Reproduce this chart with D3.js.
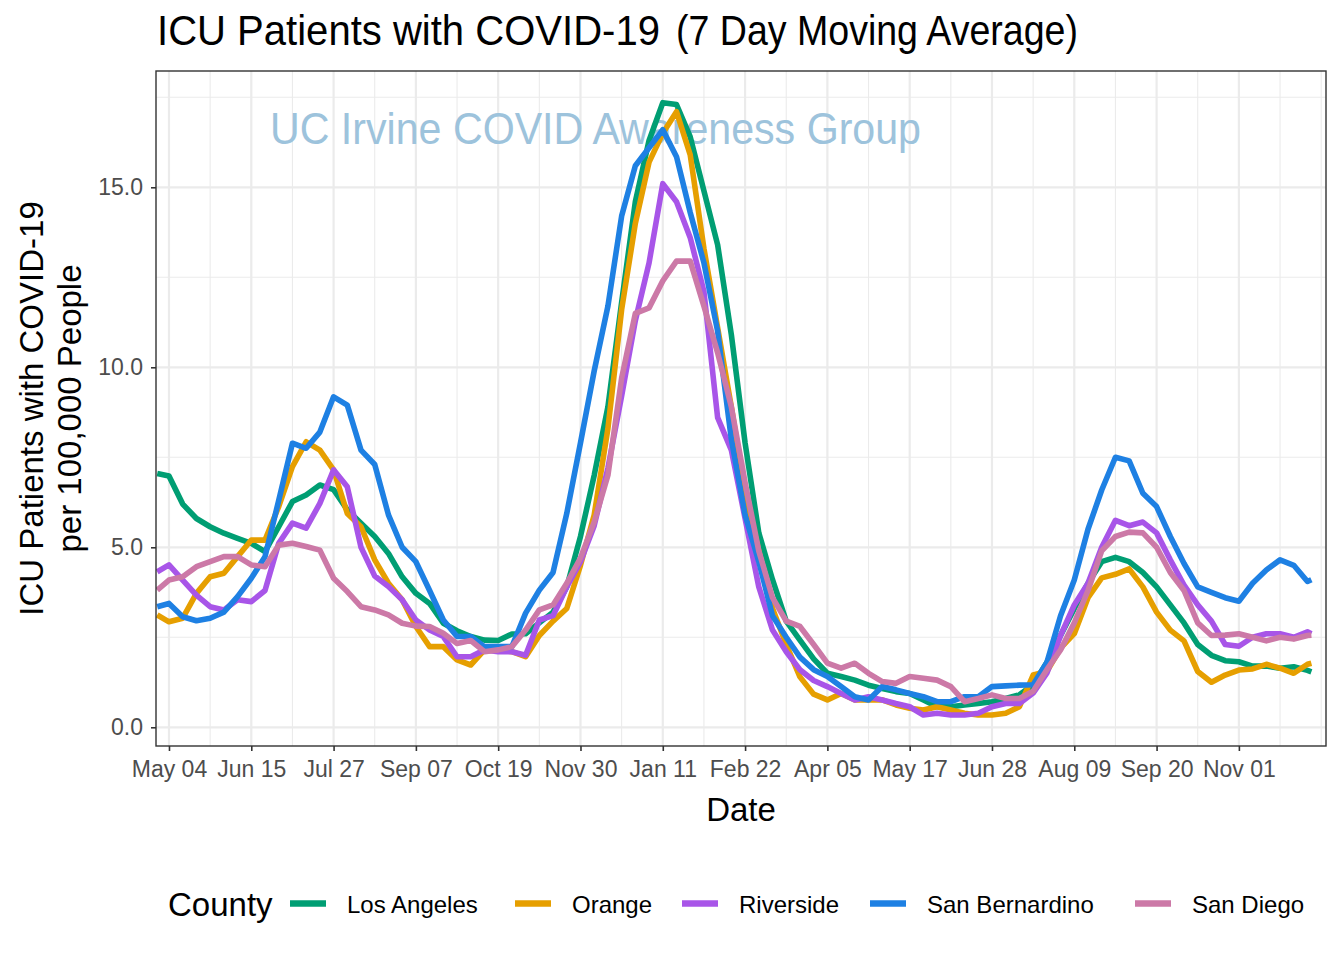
<!DOCTYPE html>
<html><head><meta charset="utf-8">
<script src="https://cdn.jsdelivr.net/npm/d3@7"></script>
<style>body{margin:0;background:#fff} text{font-family:"Liberation Sans",Arial,Helvetica,sans-serif}</style>
</head><body><svg id="chart" width="1344" height="960"></svg>
<script>
// ---------- DATA ----------
const dates = [
"2020-04-28","2020-05-04","2020-05-11","2020-05-18","2020-05-25","2020-06-01","2020-06-08","2020-06-15","2020-06-22","2020-06-29",
"2020-07-06","2020-07-13","2020-07-20","2020-07-27","2020-08-03","2020-08-10","2020-08-17","2020-08-24","2020-08-31","2020-09-07",
"2020-09-14","2020-09-21","2020-09-28","2020-10-05","2020-10-12","2020-10-19","2020-10-26","2020-11-02","2020-11-09","2020-11-16",
"2020-11-23","2020-11-30","2020-12-07","2020-12-14","2020-12-21","2020-12-28","2021-01-04","2021-01-11","2021-01-18","2021-01-25",
"2021-02-01","2021-02-08","2021-02-15","2021-02-22","2021-03-01","2021-03-08","2021-03-15","2021-03-22","2021-03-29","2021-04-05",
"2021-04-12","2021-04-19","2021-04-26","2021-05-03","2021-05-10","2021-05-17","2021-05-24","2021-05-31","2021-06-07","2021-06-14",
"2021-06-21","2021-06-28","2021-07-05","2021-07-12","2021-07-19","2021-07-26","2021-08-02","2021-08-09","2021-08-16","2021-08-23",
"2021-08-30","2021-09-06","2021-09-13","2021-09-20","2021-09-27","2021-10-04","2021-10-11","2021-10-18","2021-10-25","2021-11-01",
"2021-11-08","2021-11-15","2021-11-22","2021-11-29","2021-12-06","2021-12-08"];

const losAngeles = [
7.05,6.98,6.2,5.8,5.57,5.39,5.25,5.11,4.88,5.57,
6.27,6.45,6.73,6.6,6.04,5.67,5.3,4.83,4.18,3.72,
3.44,2.89,2.68,2.52,2.42,2.41,2.59,2.6,2.9,3.2,
3.9,5.3,7.0,8.9,11.8,14.6,16.3,17.35,17.3,16.4,
14.9,13.4,10.9,7.9,5.4,4.1,2.95,2.42,1.9,1.5,
1.41,1.31,1.17,1.08,0.99,0.94,0.76,0.57,0.57,0.62,
0.66,0.71,0.8,0.9,1.18,1.8,2.55,3.3,4.0,4.6,
4.72,4.6,4.3,3.9,3.4,2.9,2.3,2.0,1.85,1.82,
1.7,1.7,1.64,1.68,1.58,1.54];

const orange = [
3.12,2.93,3.03,3.72,4.18,4.28,4.74,5.2,5.2,6.13,
7.24,7.93,7.7,7.15,5.94,5.57,4.65,4.0,3.54,2.8,
2.24,2.24,1.87,1.73,2.15,2.15,2.1,1.96,2.55,2.95,
3.3,4.5,5.9,8.3,11.6,14.0,15.7,16.5,17.1,15.9,
13.3,11.1,8.9,6.5,4.9,3.3,2.3,1.4,0.92,0.76,
0.94,0.76,0.76,0.76,0.62,0.53,0.48,0.57,0.48,0.39,
0.34,0.34,0.39,0.57,1.45,1.55,2.2,2.6,3.6,4.15,
4.25,4.4,3.9,3.2,2.7,2.4,1.55,1.25,1.45,1.59,
1.62,1.75,1.64,1.5,1.75,1.78];

const riverside = [
4.32,4.51,4.09,3.67,3.35,3.26,3.54,3.49,3.8,5.11,
5.67,5.53,6.22,7.15,6.68,5.0,4.2,3.91,3.54,2.98,
2.7,2.52,1.96,1.96,2.15,2.1,2.1,2.0,2.98,3.1,
3.9,4.6,5.6,7.2,9.2,11.3,12.9,15.1,14.6,13.6,
12.1,8.6,7.7,5.8,3.9,2.7,2.1,1.6,1.3,1.13,
0.94,0.76,0.85,0.76,0.66,0.57,0.34,0.39,0.34,0.34,
0.39,0.57,0.66,0.66,0.95,1.5,2.55,3.4,4.0,5.0,
5.75,5.6,5.7,5.4,4.65,3.95,3.4,2.95,2.3,2.25,
2.5,2.6,2.6,2.5,2.65,2.6];

const sanBernardino = [
3.35,3.44,3.07,2.96,3.03,3.2,3.63,4.14,4.74,6.3,
7.89,7.75,8.2,9.18,8.95,7.7,7.3,5.9,5.0,4.6,
3.8,2.98,2.52,2.52,2.24,2.24,2.24,3.17,3.81,4.3,
5.94,7.9,9.9,11.7,14.2,15.6,16.1,16.6,15.85,14.3,
12.9,11.0,8.0,5.9,4.6,3.1,2.5,1.95,1.6,1.41,
1.13,0.85,0.76,1.13,1.04,0.94,0.85,0.71,0.71,0.85,
0.85,1.13,1.15,1.17,1.18,1.8,3.1,4.09,5.5,6.59,
7.5,7.4,6.5,6.13,5.3,4.55,3.9,3.75,3.6,3.5,
4.0,4.37,4.65,4.5,4.05,4.1];

const sanDiego = [
3.81,4.09,4.18,4.46,4.6,4.74,4.74,4.51,4.46,5.06,
5.11,5.02,4.92,4.14,3.77,3.35,3.26,3.12,2.89,2.81,
2.8,2.61,2.33,2.41,2.1,2.15,2.24,2.7,3.26,3.4,
4.0,4.7,5.7,7.0,9.7,11.5,11.65,12.4,12.95,12.95,
11.7,10.4,8.9,6.8,4.9,3.6,2.95,2.8,2.3,1.78,
1.64,1.78,1.5,1.27,1.22,1.41,1.36,1.31,1.13,0.71,
0.8,0.9,0.8,0.8,1.0,1.6,2.15,2.9,3.8,4.9,
5.3,5.42,5.4,5.0,4.3,3.8,2.9,2.55,2.56,2.6,
2.5,2.4,2.5,2.45,2.55,2.56];

const counties = ["Los Angeles","Orange","Riverside","San Bernardino","San Diego"];
const seriesValues = [losAngeles, orange, riverside, sanBernardino, sanDiego];
const colors = ["#009E73","#E69F00","#A855E8","#1E80E3","#CC79A7"];

const xTickDates = ["2020-05-04","2020-06-15","2020-07-27","2020-09-07","2020-10-19","2020-11-30","2021-01-11",
                    "2021-02-22","2021-04-05","2021-05-17","2021-06-28","2021-08-09","2021-09-20","2021-11-01"];
const xTickLabels = ["May 04","Jun 15","Jul 27","Sep 07","Oct 19","Nov 30","Jan 11",
                     "Feb 22","Apr 05","May 17","Jun 28","Aug 09","Sep 20","Nov 01"];
const yTicks = [0, 5, 10, 15];
const yMinor = [2.5, 7.5, 12.5, 17.5];

// ---------- LAYOUT ----------
const svg = d3.select("#chart");
const P = {left:156, right:1326, top:71, bottom:746};
const parse = d3.utcParse("%Y-%m-%d");

const x = d3.scaleUtc()
  .domain([new Date(Date.UTC(2020,3,27,9)), new Date(Date.UTC(2021,11,15,11))])
  .range([P.left, P.right]);
const y = d3.scaleLinear().domain([-0.52, 18.23]).range([P.bottom, P.top]);

svg.append("rect").attr("width",1344).attr("height",960).attr("fill","#fff");

const majorX = xTickDates.map(parse);
const minorX = [];
majorX.forEach(d => minorX.push(d3.utcDay.offset(d, 21)));
minorX.push(d3.utcDay.offset(majorX[majorX.length-1], 42));

const grid = svg.append("g");
grid.selectAll(".ymin").data(yMinor).join("line")
  .attr("x1",P.left).attr("x2",P.right).attr("y1",d=>y(d)).attr("y2",d=>y(d))
  .attr("stroke","#EBEBEB").attr("stroke-width",1.1);
grid.selectAll(".xmin").data(minorX.filter(d=>x(d)>P.left && x(d)<P.right)).join("line")
  .attr("y1",P.top).attr("y2",P.bottom).attr("x1",d=>x(d)).attr("x2",d=>x(d))
  .attr("stroke","#EBEBEB").attr("stroke-width",1.1);
grid.selectAll(".ymaj").data(yTicks).join("line")
  .attr("x1",P.left).attr("x2",P.right).attr("y1",d=>y(d)).attr("y2",d=>y(d))
  .attr("stroke","#EBEBEB").attr("stroke-width",2.2);
grid.selectAll(".xmaj").data(majorX).join("line")
  .attr("y1",P.top).attr("y2",P.bottom).attr("x1",d=>x(d)).attr("x2",d=>x(d))
  .attr("stroke","#EBEBEB").attr("stroke-width",2.2);

// watermark
svg.append("text").attr("x",270).attr("y",144)
  .attr("font-size",44).attr("fill","#9DC3DC")
  .attr("textLength",651).attr("lengthAdjust","spacingAndGlyphs")
  .text("UC Irvine COVID Awareness Group");

// clip
svg.append("clipPath").attr("id","clip").append("rect")
  .attr("x",P.left).attr("y",P.top).attr("width",P.right-P.left).attr("height",P.bottom-P.top);

const line = d3.line().x(d=>x(d[0])).y(d=>y(d[1]));
const parsedDates = dates.map(parse);
const lines = svg.append("g").attr("clip-path","url(#clip)");
seriesValues.forEach((vals,i)=>{
  lines.append("path")
    .datum(parsedDates.map((d,j)=>[d, vals[j]]))
    .attr("d", line).attr("fill","none")
    .attr("stroke", colors[i]).attr("stroke-width",5.6)
    .attr("stroke-linejoin","round");
});

// panel border
svg.append("rect").attr("x",P.left).attr("y",P.top)
  .attr("width",P.right-P.left).attr("height",P.bottom-P.top)
  .attr("fill","none").attr("stroke","#333333").attr("stroke-width",1.4);

// x axis
const xAxis = d3.axisBottom(x).tickValues(majorX)
  .tickFormat((d,i)=>xTickLabels[i]).tickSize(5).tickPadding(10);
const gx = svg.append("g").attr("transform",`translate(0,${P.bottom})`).call(xAxis);
gx.select(".domain").remove();
gx.selectAll(".tick line").attr("stroke","#333333").attr("stroke-width",1.6);
gx.selectAll(".tick text").attr("font-size",23).attr("fill","#4D4D4D")
  .attr("font-family","'Liberation Sans',Arial,sans-serif");

// y axis
const yAxis = d3.axisLeft(y).tickValues(yTicks).tickFormat(d3.format(".1f")).tickSize(5).tickPadding(8);
const gy = svg.append("g").attr("transform",`translate(${P.left},0)`).call(yAxis);
gy.select(".domain").remove();
gy.selectAll(".tick line").attr("stroke","#333333").attr("stroke-width",1.6);
gy.selectAll(".tick text").attr("font-size",23).attr("fill","#4D4D4D")
  .attr("font-family","'Liberation Sans',Arial,sans-serif");

// titles
svg.append("text").attr("x",157).attr("y",45).attr("font-size",42)
  .attr("textLength",503).attr("lengthAdjust","spacingAndGlyphs")
  .text("ICU Patients with COVID-19");
svg.append("text").attr("x",676).attr("y",45).attr("font-size",42)
  .attr("textLength",402).attr("lengthAdjust","spacingAndGlyphs")
  .text("(7 Day Moving Average)");

svg.append("text").attr("x",(P.left+P.right)/2).attr("y",821)
  .attr("text-anchor","middle").attr("font-size",33).text("Date");

const ymid = (P.top+P.bottom)/2;
svg.append("text").attr("transform",`translate(43,${ymid}) rotate(-90)`)
  .attr("text-anchor","middle").attr("font-size",33).text("ICU Patients with COVID-19");
svg.append("text").attr("transform",`translate(81,${ymid}) rotate(-90)`)
  .attr("text-anchor","middle").attr("font-size",33).text("per 100,000 People");

// legend
const lg = svg.append("g");
lg.append("text").attr("x",168).attr("y",916).attr("font-size",33).text("County");
const keyX = [290, 515, 682, 870, 1135];
counties.forEach((c,i)=>{
  lg.append("line").attr("x1",keyX[i]).attr("x2",keyX[i]+36)
    .attr("y1",903.5).attr("y2",903.5).attr("stroke",colors[i]).attr("stroke-width",6.5);
  lg.append("text").attr("x",keyX[i]+57).attr("y",913).attr("font-size",24).text(c);
});
</script></body></html>
